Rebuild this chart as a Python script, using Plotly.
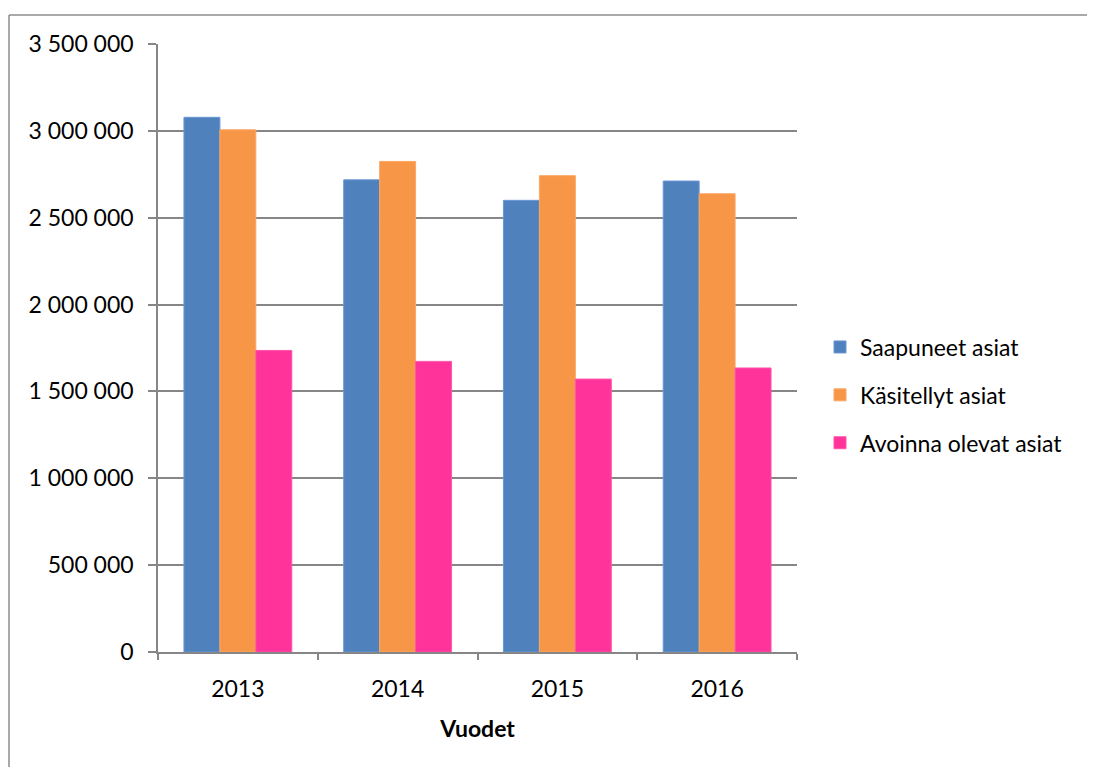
import plotly.graph_objects as go

years = ["2013", "2014", "2015", "2016"]
saapuneet = [3078000, 2718000, 2600000, 2711000]
kasitellyt = [3006000, 2824000, 2742000, 2638000]
avoinna = [1736000, 1673000, 1571000, 1635000]

series_names = ["Saapuneet asiat", "Käsitellyt asiat", "Avoinna olevat asiat"]
series_values = [saapuneet, kasitellyt, avoinna]
colors = ["#4F81BD", "#F79646", "#FF3399"]
edge_colors = ["#6A96D6", "#FBA765", "#FF55AA"]

FONT = "Lato, Carlito, Calibri, sans-serif"
GRID = "#868686"

# page body has an 8px default margin, so the figure is drawn 8px smaller
W, H = 1087, 759
L, T = 150, 36
PW, PH = 639, 608

fig = go.Figure()
for i, (name, vals) in enumerate(zip(series_names, series_values)):
    fig.add_trace(go.Bar(
        x=years, y=vals, name=name,
        marker=dict(color=colors[i], line=dict(color=edge_colors[i], width=1)),
        legendgroup=f"g{i}",
    ))

fig.update_layout(
    width=W, height=H,
    paper_bgcolor="white", plot_bgcolor="white",
    margin=dict(l=L, r=W - L - PW, t=T, b=H - T - PH, autoexpand=False),
    barmode="group", bargap=0.325, bargroupgap=0,
    separators=", ",
    font=dict(family=FONT, size=23, color="#000000"),
    legend=dict(
        x=1.036, xanchor="left", y=0.4227, yanchor="middle",
        font=dict(family=FONT, size=23, color="#000000"),
        tracegroupgap=15, bgcolor="rgba(0,0,0,0)",
    ),
    xaxis=dict(
        type="category", showline=True, linecolor=GRID, linewidth=1.5,
        ticks="outside", tickson="boundaries", ticklen=6, tickcolor=GRID, tickwidth=1.5,
        showgrid=False, tickfont=dict(family=FONT, size=23),
        ticklabelstandoff=16,
        title=dict(text="<b>Vuodet</b>", font=dict(family=FONT, size=23), standoff=20),
    ),
    yaxis=dict(
        range=[0, 3500000], dtick=500000, tick0=0, tickformat=",.0f",
        showline=True, linecolor=GRID, linewidth=1.5,
        ticks="outside", ticklen=8, tickcolor=GRID, tickwidth=1.5,
        showgrid=True, gridcolor=GRID, gridwidth=1.5, zeroline=False,
        tickfont=dict(family=FONT, size=23), ticklabelstandoff=10,
    ),
    shapes=[
        dict(type="line", xref="paper", yref="paper",
             x0=(1 - L) / PW, x1=(W + 10 - L) / PW,
             y0=(T + PH - 7) / PH, y1=(T + PH - 7) / PH,
             line=dict(color="#8C8C8C", width=1.5)),
        dict(type="line", xref="paper", yref="paper",
             x0=(1 - L) / PW, x1=(1 - L) / PW,
             y0=(T + PH - 7) / PH, y1=(T + PH - H - 10) / PH,
             line=dict(color="#8C8C8C", width=1.5)),
    ],
)

fig.write_html("out.html")
